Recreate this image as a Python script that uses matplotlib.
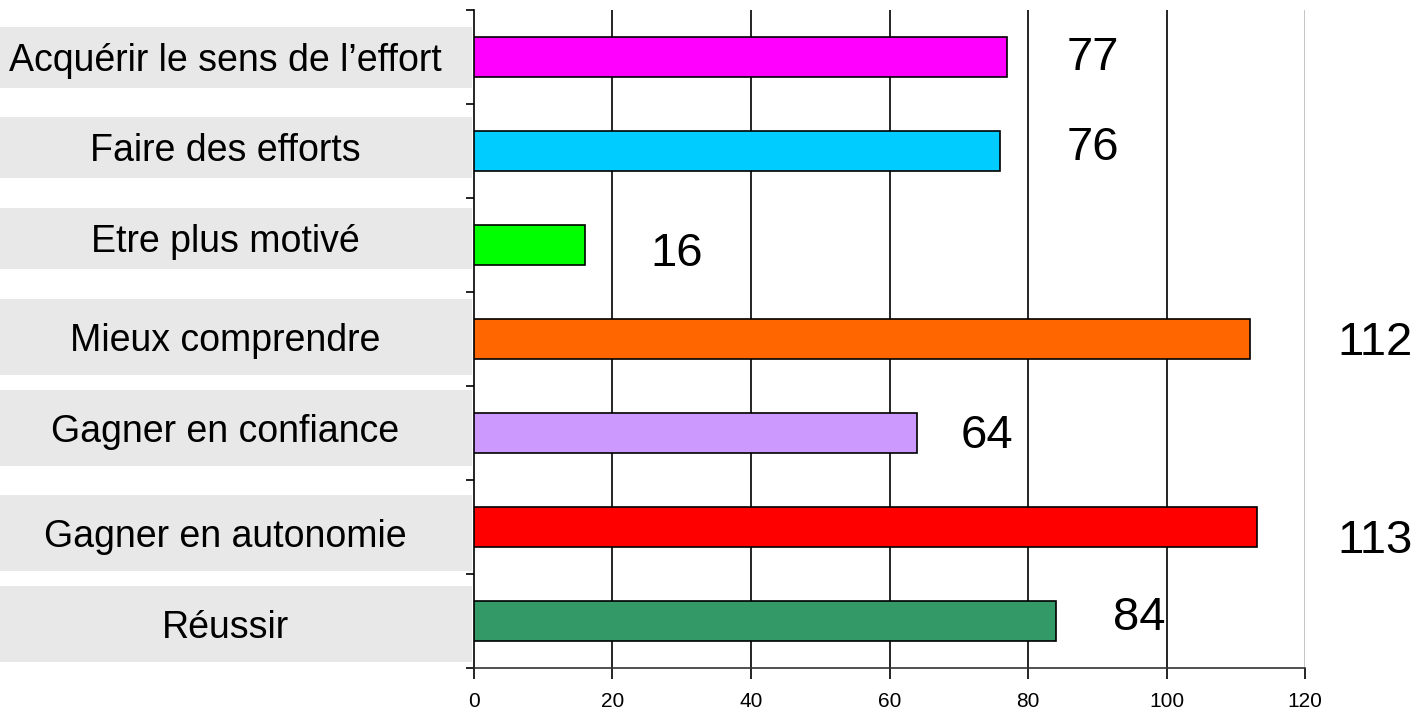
import matplotlib.pyplot as plt
from matplotlib.patches import Rectangle
import matplotlib.transforms as mtransforms

plt.rcParams['font.family'] = ['Liberation Sans', 'DejaVu Sans']

categories = ["Acquérir le sens de l\u2019effort", "Faire des efforts", "Etre plus motivé",
              "Mieux comprendre", "Gagner en confiance", "Gagner en autonomie", "Réussir"]
values = [77, 76, 16, 112, 64, 113, 84]
colors = ["#FF00FF", "#00CCFF", "#00FF00", "#FF6600", "#CC99FF", "#FF0000", "#339966"]
xticks = [0, 20, 40, 60, 80, 100, 120]

# style: label boxes and value label placement (category / data units)
box_h = [0.65, 0.65, 0.65, 0.81, 0.81, 0.81, 0.81]
box_dy = [0.005, -0.037, -0.069, -0.021, -0.053, 0.064, 0.032]
lbl_dx = [8.6, 9.6, 9.5, 12.6, 6.3, 11.6, 8.2]
lbl_dy = [0.14, 0.10, 0.22, 0.17, 0.16, 0.28, 0.10]

fig = plt.figure(figsize=(14.17, 7.12), dpi=100)
ax = fig.add_axes([0.3345, 0.0618, 0.5865, 0.924])

n = len(categories)
ypos = list(range(n))
ax.barh(ypos, values, height=0.42, color=colors, edgecolor='black', linewidth=1.2, zorder=3)

ax.set_xlim(0, 120)
ax.set_ylim(n - 0.5, -0.5)

# vertical grid lines
for x in xticks[1:-1]:
    ax.axvline(x, color='black', linewidth=1.2, zorder=1)
ax.axvline(120, color='#bbbbbb', linewidth=1.2, zorder=1)

for y, v, dx, dy in zip(ypos, values, lbl_dx, lbl_dy):
    ax.text(v + dx, y + dy, str(v), ha='left', va='baseline', fontsize=34)

ax.set_xticks(xticks)
ax.set_xticklabels([str(t) for t in xticks], fontsize=15)
ax.set_yticks([i - 0.5 for i in range(n + 1)])
ax.set_yticklabels([])
ax.tick_params(axis='y', direction='out', length=6, width=1.2)
ax.tick_params(axis='x', direction='out', length=8, width=1.2, pad=9)
ax.spines['top'].set_visible(False)
ax.spines['right'].set_visible(False)
ax.spines['left'].set_linewidth(1.2)
ax.spines['bottom'].set_linewidth(1.2)
ax.spines['bottom'].set_color('#333333')

# grey boxes with the category names, left of the axis
trans = mtransforms.blended_transform_factory(fig.transFigure, ax.transData)
for y, lab, h, bdy in zip(ypos, categories, box_h, box_dy):
    yc = y + bdy
    ax.add_patch(Rectangle((0, yc - h / 2), 0.333, h, transform=trans,
                           facecolor='#e8e8e8', edgecolor='none', clip_on=False, zorder=0))
    ax.text(0.159, yc + 0.144, lab, transform=trans, ha='center', va='baseline', fontsize=27)

fig.savefig('out.png', dpi=100)
